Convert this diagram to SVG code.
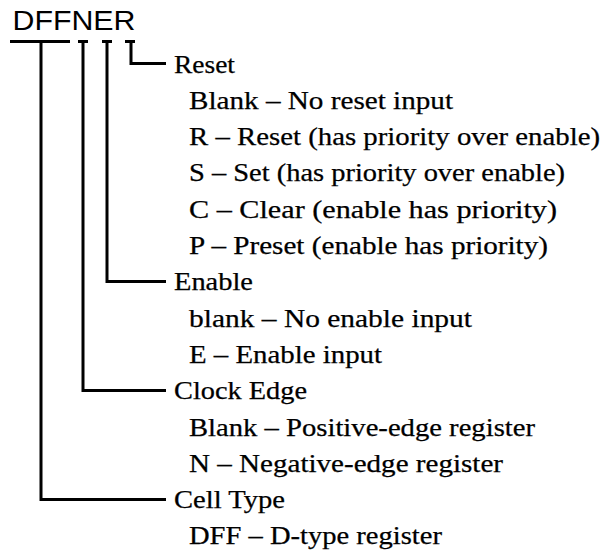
<svg xmlns="http://www.w3.org/2000/svg" width="603" height="552" viewBox="0 0 603 552">
<style>
.title{font-family:"Liberation Sans",Arial,sans-serif;font-size:28px;fill:#000}
.h{font-family:"Liberation Serif","Times New Roman",serif;font-size:24.5px;fill:#000;stroke:#000;stroke-width:0.25}
.c{fill:none;stroke:#000;stroke-width:3;stroke-linejoin:miter;stroke-linecap:butt}
</style>
<rect width="603" height="552" fill="#fff"/>
<g id="title"><text class="title" x="12.5" y="29.5" textLength="123" lengthAdjust="spacingAndGlyphs">DFFNER</text></g>
<g id="connectors">
<path class="c" d="M10,41.5H70M78,41.5H88M102,41.5H112M125,41.5H135"/>
<path class="c" d="M41,41.5V499.5H166"/>
<path class="c" d="M83,41.5V390.5H166"/>
<path class="c" d="M107,41.5V281.5H166"/>
<path class="c" d="M131,41.5V63.5H166"/>
</g>
<g id="reset">
<text class="h" x="174" y="72.5" textLength="61" lengthAdjust="spacingAndGlyphs">Reset</text>
<text class="h" x="189" y="108.8" textLength="264" lengthAdjust="spacingAndGlyphs">Blank – No reset input</text>
<text class="h" x="189" y="145.1" textLength="411" lengthAdjust="spacingAndGlyphs">R – Reset (has priority over enable)</text>
<text class="h" x="189" y="181.4" textLength="376" lengthAdjust="spacingAndGlyphs">S – Set (has priority over enable)</text>
<text class="h" x="189" y="217.7" textLength="368" lengthAdjust="spacingAndGlyphs">C – Clear (enable has priority)</text>
<text class="h" x="189" y="254" textLength="359" lengthAdjust="spacingAndGlyphs">P – Preset (enable has priority)</text>
</g>
<g id="enable">
<text class="h" x="174" y="290.3" textLength="79" lengthAdjust="spacingAndGlyphs">Enable</text>
<text class="h" x="189" y="326.6" textLength="283" lengthAdjust="spacingAndGlyphs">blank – No enable input</text>
<text class="h" x="189" y="362.9" textLength="193" lengthAdjust="spacingAndGlyphs">E – Enable input</text>
</g>
<g id="clock-edge">
<text class="h" x="174" y="399.2" textLength="133" lengthAdjust="spacingAndGlyphs">Clock Edge</text>
<text class="h" x="189" y="435.5" textLength="346" lengthAdjust="spacingAndGlyphs">Blank – Positive-edge register</text>
<text class="h" x="189" y="471.8" textLength="314" lengthAdjust="spacingAndGlyphs">N – Negative-edge register</text>
</g>
<g id="cell-type">
<text class="h" x="174" y="508.1" textLength="111" lengthAdjust="spacingAndGlyphs">Cell Type</text>
<text class="h" x="189" y="544.4" textLength="253" lengthAdjust="spacingAndGlyphs">DFF – D-type register</text>
</g>
</svg>
